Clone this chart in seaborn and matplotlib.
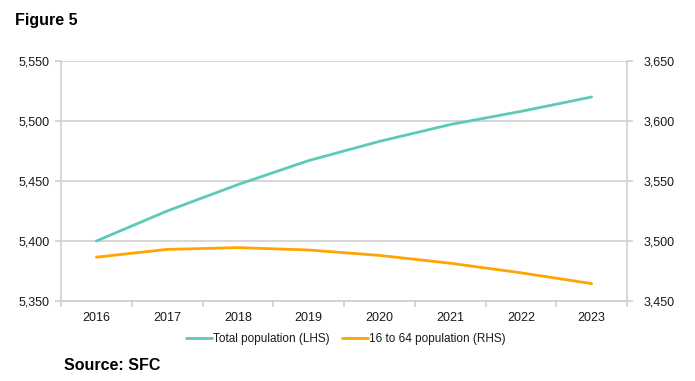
import pandas as pd
import seaborn as sns
import matplotlib.pyplot as plt
from matplotlib.lines import Line2D
from matplotlib.ticker import FuncFormatter

years = ['2016', '2017', '2018', '2019', '2020', '2021', '2022', '2023']
total_pop = [5400, 5425, 5447, 5467, 5483, 5497, 5508, 5520]
working_pop = [3486.5, 3493, 3494.5, 3492.5, 3488, 3481.5, 3473.5, 3464.5]

teal = '#5CC9B9'
orange = '#FFA500'
grey = '#CFCFCF'
txt = '#1a1a1a'

sns.set_theme(style='white')
plt.rcParams['font.family'] = ['Liberation Sans', 'DejaVu Sans']

df = pd.DataFrame({'year': years, 'total': total_pop, 'working': working_pop})
df['pos'] = range(len(df))

fig = plt.figure(figsize=(6.95, 3.81), dpi=100)
ax = fig.add_axes([61 / 695, 1 - 301 / 381, 566 / 695, 240 / 381])
ax2 = ax.twinx()

sns.lineplot(data=df, x='pos', y='total', ax=ax, color=teal, linewidth=2)
sns.lineplot(data=df, x='pos', y='working', ax=ax2, color=orange, linewidth=2)

ax.set_xlim(-0.5, len(years) - 0.5)
ax.set_ylim(5350, 5550)
ax2.set_ylim(3450, 3650)
ax.set_yticks(range(5350, 5551, 50))
ax2.set_yticks(range(3450, 3651, 50))
fmt = FuncFormatter(lambda v, p: f'{v:,.0f}')
ax.yaxis.set_major_formatter(fmt)
ax2.yaxis.set_major_formatter(fmt)

# category labels centered, tick marks between categories
ax.set_xticks(df['pos'])
ax.set_xticklabels(years)
ax.set_xticks([i - 0.5 for i in range(len(years) + 1)], minor=True)
ax.tick_params(axis='x', which='major', length=0, labelsize=9, pad=8, labelcolor=txt)
ax.tick_params(axis='x', which='minor', length=4, color=grey, width=1.2, direction='out', bottom=True)

ax.yaxis.grid(True, color=grey, linewidth=1.2)
ax.set_axisbelow(True)
ax.tick_params(axis='y', length=4, color=grey, width=1.2, direction='out', left=True,
               labelsize=9, pad=4, labelcolor=txt)
ax2.tick_params(axis='y', length=4, color=grey, width=1.2, direction='out', right=True,
                labelsize=9, pad=8, labelcolor=txt)

for a in (ax, ax2):
    a.set_xlabel('')
    a.set_ylabel('')
    for s in a.spines.values():
        s.set_visible(False)
for a, side in ((ax, 'left'), (ax, 'bottom'), (ax2, 'right')):
    a.spines[side].set_visible(True)
    a.spines[side].set_color(grey)
    a.spines[side].set_linewidth(1.2)

handles = [Line2D([], [], color=teal, linewidth=2),
           Line2D([], [], color=orange, linewidth=2)]
leg = fig.legend(handles, ['Total population (LHS)', '16 to 64 population (RHS)'],
                 loc='center', bbox_to_anchor=(346 / 695, 1 - 339 / 381), ncol=2,
                 frameon=False, fontsize=8.5, handlelength=2.2, handletextpad=0.1,
                 columnspacing=1.0)
for t in leg.get_texts():
    t.set_color(txt)

fig.text(15 / 695, 1 - 20 / 381, 'Figure 5', fontsize=11.5, fontweight='bold',
         va='center', ha='left', color='black')
fig.text(64 / 695, 1 - 365 / 381, 'Source: SFC', fontsize=11.5, fontweight='bold',
         va='center', ha='left', color='black')

fig.savefig('out.png', dpi=100)
